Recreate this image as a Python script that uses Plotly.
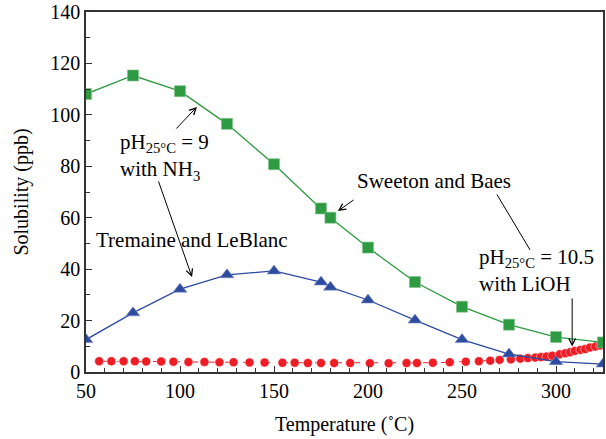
import plotly.graph_objects as go

# Sweeton and Baes (green squares)
sb_temp = [50, 75, 100, 125, 150, 175, 180, 200, 225, 250, 275, 300, 325]
sb_sol = [108.1, 115.3, 109.2, 96.5, 80.8, 63.6, 60.0, 48.4, 35.0, 25.4, 18.4, 13.6, 11.5]

# Tremaine and LeBlanc (blue triangles)
tl_temp = [50, 75, 100, 125, 150, 175, 180, 200, 225, 250, 275, 300, 325]
tl_sol = [12.6, 23.0, 32.2, 37.8, 39.3, 35.0, 33.0, 28.0, 20.2, 12.6, 7.0, 4.0, 3.1]

# pH 10.5 with LiOH (red dots)
li_temp = [57, 63.5, 70, 76, 82, 90, 96.5, 104.5, 113, 121, 128.5, 137, 145, 154.5,
           161, 168, 175, 182, 190.5, 201, 211, 220.5, 226, 234.5, 243.5, 252, 259,
           265, 270, 276, 281, 285, 289, 292, 295, 298, 302, 305, 307.5, 310, 313,
           315.5, 318, 321, 323.5, 326]
li_sol = [4.2, 4.2, 4.2, 4.2, 4.1, 4.1, 4.0, 3.9, 3.9, 3.8, 3.8, 3.7, 3.7, 3.6,
          3.6, 3.5, 3.5, 3.5, 3.5, 3.4, 3.4, 3.5, 3.5, 3.6, 3.8, 4.0, 4.2,
          4.4, 4.7, 4.9, 5.2, 5.4, 5.6, 5.8, 6.0, 6.3, 6.9, 7.3, 7.7, 8.2, 8.6,
          8.9, 9.5, 9.9, 10.3, 10.9]

FONT = "Liberation Serif"
GREEN = "#2e9a42"
BLUE = "#2d4b9f"
RED = "#ee1c25"

fig = go.Figure()
fig.add_trace(go.Scatter(x=li_temp, y=li_sol, mode="lines+markers",
                         line=dict(color=RED, width=1, dash="dash"),
                         marker=dict(symbol="circle", size=9, color=RED,
                                     line=dict(color="white", width=0.5)),
                         showlegend=False))
fig.add_trace(go.Scatter(x=sb_temp, y=sb_sol, mode="lines+markers",
                         line=dict(color=GREEN, width=1.3),
                         marker=dict(symbol="square", size=11, color=GREEN,
                                     line=dict(color="#7fc08a", width=0.6)),
                         showlegend=False))
fig.add_trace(go.Scatter(x=tl_temp, y=tl_sol, mode="lines+markers",
                         line=dict(color=BLUE, width=1.3),
                         marker=dict(symbol="triangle-up", size=12, color=BLUE,
                                     line=dict(color="#8090c8", width=0.6)),
                         showlegend=False))

tf = dict(family=FONT, size=21, color="black")

# Text labels
fig.add_annotation(x=67, y=83.6, xref="x", yref="y", xanchor="left", yanchor="middle",
                   align="left", showarrow=False, font=tf,
                   text="pH<sub>25°C</sub> = 9<br>with NH<sub>3</sub>")
fig.add_annotation(x=106.4, y=51.3, xref="x", yref="y", showarrow=False, font=tf,
                   text="Tremaine and LeBlanc")
fig.add_annotation(x=235.1, y=74.3, xref="x", yref="y", showarrow=False, font=tf,
                   text="Sweeton and Baes")
fig.add_annotation(x=258, y=39.3, xref="x", yref="y", xanchor="left", yanchor="middle",
                   align="left", showarrow=False, font=tf,
                   text="pH<sub>25°C</sub> = 10.5<br>with LiOH")

# Arrows / leader lines
arrows = [
    (109, 103.1, 97.3, 94.1, 5),
    (106.4, 36.9, 88.3, 74.7, 5),
    (184, 62.6, 193.1, 67.3, 5),
    (286.2, 47.5, 268.1, 69.6, 0),
    (308.6, 9.9, 308.6, 29.2, 5),
]
for hx, hy, tx, ty, head in arrows:
    fig.add_annotation(x=hx, y=hy, ax=tx, ay=ty, xref="x", yref="y",
                       axref="x", ayref="y", text="", showarrow=True,
                       arrowhead=head, arrowsize=1.3, arrowwidth=1,
                       arrowcolor="black")

axis_common = dict(showline=True, linecolor="#333333", linewidth=1.5, mirror=True,
                   ticks="inside", ticklen=6, tickwidth=1.2, tickcolor="#333333",
                   showgrid=False, zeroline=False,
                   tickfont=dict(family=FONT, size=20, color="black"))

fig.update_xaxes(range=[50, 325], dtick=50, tick0=50,
                 minor=dict(dtick=10, ticks="inside", ticklen=4, tickcolor="#333333"),
                 title=dict(text="Temperature (˚C)", font=dict(family=FONT, size=20, color="black"),
                            standoff=16),
                 **axis_common)
fig.update_yaxes(range=[0, 140], dtick=20,
                 minor=dict(dtick=10, ticks="inside", ticklen=4, tickcolor="#333333"),
                 title=dict(text="Solubility (ppb)", font=dict(family=FONT, size=20, color="black"),
                            standoff=16),
                 **axis_common)

fig.update_layout(width=606, height=439, margin=dict(l=86, r=1, t=12, b=67),
                  plot_bgcolor="white", paper_bgcolor="white")

fig.write_html("out.html")
